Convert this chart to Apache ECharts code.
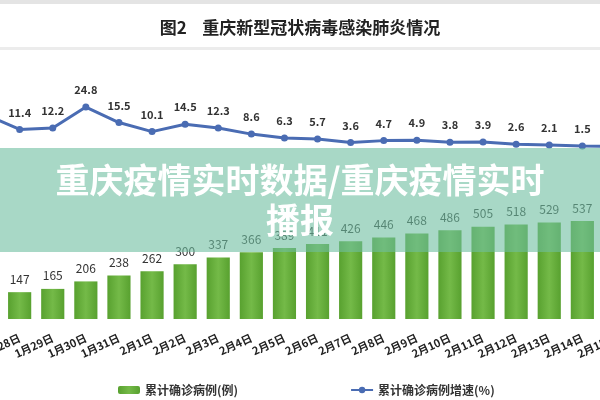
<!DOCTYPE html>
<html>
<head>
<meta charset="utf-8">
<script src="https://cdn.jsdelivr.net/npm/echarts@6/dist/echarts.min.js"></script>
<style>
  html, body { margin: 0; padding: 0; background: #fff; }
  #chart { width: 600px; height: 400px; }
</style>
</head>
<body>
<div id="chart"></div>
<script>
// ============ 数据 ============
const dates = ['1月27日', '1月28日', '1月29日', '1月30日', '1月31日', '2月1日', '2月2日', '2月3日', '2月4日', '2月5日',
  '2月6日', '2月7日', '2月8日', '2月9日', '2月10日', '2月11日', '2月12日', '2月13日', '2月14日', '2月15日']
// 累计确诊病例(例)
const totalCases = [132, 147, 165, 206, 238, 262, 300, 337, 366, 389, 411, 426, 446, 468, 486, 505, 518, 529, 537, 544]
// 累计确诊病例增速(%)
const growthRate = [20.0, 11.4, 12.2, 24.8, 15.5, 10.1, 14.5, 12.3, 8.6, 6.3, 5.7, 3.6, 4.7, 4.9, 3.8, 3.9, 2.6, 2.1, 1.5, 1.3]

const FONT = '"Noto Sans CJK SC", "Noto Sans", sans-serif'
const COLORS = {
  text: '#333',
  line: '#4a6cb3',
  barEdge: '#58a12f',
  barMid: '#74ba48'
}

const chart = echarts.init(document.getElementById('chart'))

chart.setOption({
  backgroundColor: '#fff',
  animation: false,
  textStyle: { fontFamily: FONT },
  title: {
    text: '图2    重庆新型冠状病毒感染肺炎情况',
    left: 'center',
    top: 14,
    textStyle: { fontSize: 17, fontWeight: 'bold', color: '#222', fontFamily: FONT }
  },
  legend: {
    left: 113,
    top: 379,
    itemGap: 112,
    itemWidth: 22,
    itemHeight: 8,
    textStyle: { fontSize: 12, color: COLORS.text, fontWeight: 'bold', fontFamily: FONT },
    data: ['累计确诊病例(例)', '累计确诊病例增速(%)']
  },
  grid: {
    left: -30,
    width: 662,
    top: 100,
    bottom: 81,
    containLabel: false,
    outerBoundsMode: 'none'
  },
  xAxis: {
    type: 'category',
    data: dates,
    axisLine: { show: false },
    axisTick: { show: false },
    axisLabel: {
      interval: 0,
      rotate: 25,
      margin: 18,
      fontSize: 11,
      fontWeight: 'bold',
      color: '#222',
      fontFamily: FONT
    }
  },
  yAxis: [
    { type: 'value', min: 0, max: 1200, show: false },
    { type: 'value', min: -102, max: 29, show: false }
  ],
  series: [
    {
      name: '累计确诊病例(例)',
      type: 'bar',
      data: totalCases,
      barCategoryGap: '30%',
      itemStyle: {
        color: new echarts.graphic.LinearGradient(0, 0, 1, 0, [
          { offset: 0, color: COLORS.barEdge },
          { offset: 0.5, color: COLORS.barMid },
          { offset: 1, color: COLORS.barEdge }
        ])
      },
      label: {
        show: true,
        position: 'top',
        distance: 7,
        fontSize: 12,
        color: COLORS.text,
        fontFamily: FONT
      }
    },
    {
      name: '累计确诊病例增速(%)',
      type: 'line',
      yAxisIndex: 1,
      data: growthRate,
      symbol: 'circle',
      symbolSize: 7,
      lineStyle: { width: 3, color: COLORS.line },
      itemStyle: { color: COLORS.line },
      label: {
        show: true,
        position: 'top',
        distance: 8,
        fontSize: 11,
        fontWeight: 'bold',
        color: COLORS.text,
        fontFamily: FONT,
        formatter: p => p.value.toFixed(1)
      }
    }
  ],
  graphic: [
    // 顶部灰边与标题下分隔线
    { type: 'rect', shape: { x: 0, y: 0, width: 600, height: 4 }, style: { fill: '#e4e4e4' } },
    { type: 'rect', shape: { x: 0, y: 47, width: 600, height: 3 }, style: { fill: '#ececec' } },
    // 覆盖横幅
    {
      type: 'rect',
      z: 100,
      shape: { x: 0, y: 148, width: 600, height: 104 },
      style: { fill: 'rgba(110, 190, 160, 0.6)' }
    },
    {
      type: 'text',
      z: 101,
      x: 300,
      y: 160,
      style: {
        text: '重庆疫情实时数据/重庆疫情实时\n播报',
        fill: '#fff',
        font: 'bold 34px "Noto Sans CJK SC"',
        textAlign: 'center',
        lineHeight: 40
      }
    }
  ]
})
</script>
</body>
</html>
